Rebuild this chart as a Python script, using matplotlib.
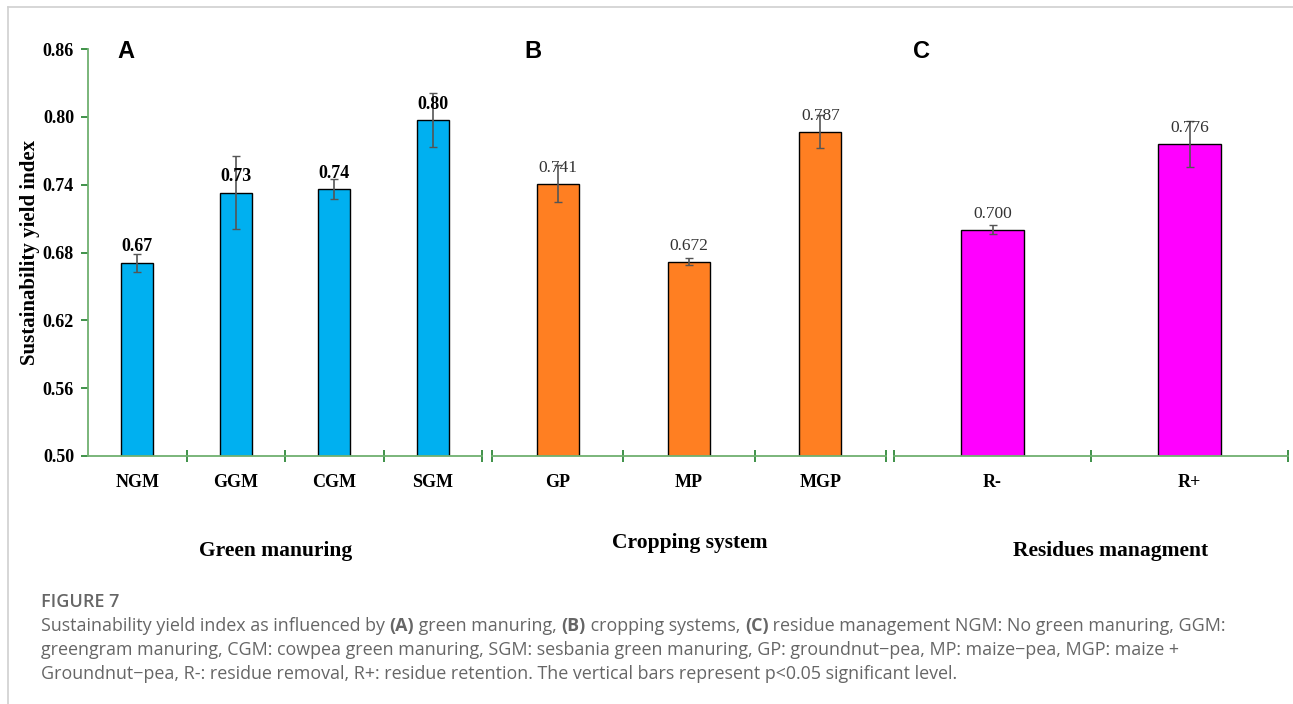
import matplotlib
matplotlib.use("Agg")
import matplotlib.pyplot as plt
from matplotlib.lines import Line2D

# ---------------- data ----------------
cats_a = ["NGM", "GGM", "CGM", "SGM"]
vals_a = [0.671, 0.733, 0.736, 0.797]
errs_a = [0.008, 0.032, 0.009, 0.024]
labs_a = ["0.67", "0.73", "0.74", "0.80"]

cats_b = ["GP", "MP", "MGP"]
vals_b = [0.741, 0.672, 0.787]
errs_b = [0.016, 0.003, 0.015]
labs_b = ["0.741", "0.672", "0.787"]

cats_c = ["R-", "R+"]
vals_c = [0.700, 0.776]
errs_c = [0.004, 0.020]
labs_c = ["0.700", "0.776"]

yticks = [0.50, 0.56, 0.62, 0.68, 0.74, 0.80, 0.86]
panel_letters = ["A", "B", "C"]
group_titles = ["Green manuring", "Cropping system", "Residues managment"]

caption_title = "FIGURE 7"
caption_lines = [
    [("Sustainability yield index as influenced by ", False), ("(A)", True),
     (" green manuring, ", False), ("(B)", True), (" cropping systems, ", False),
     ("(C)", True), (" residue management NGM: No green manuring, GGM:", False)],
    [("greengram manuring, CGM: cowpea green manuring, SGM: sesbania green manuring, "
      "GP: groundnut\u2212pea, MP: maize\u2212pea, MGP: maize +", False)],
    [("Groundnut\u2212pea, R-: residue removal, R+: residue retention. "
      "The vertical bars represent p<0.05 significant level.", False)],
]

# ---------------- style ----------------
W, H = 1293, 704
fig = plt.figure(figsize=(W / 100, H / 100), dpi=100)
serif = "Liberation Serif"
AX_GREEN = "#6fb070"
TICK_GREEN = "#1f7f2a"

panels = [
    (cats_a, vals_a, errs_a, labs_a, "#00B0F0", True, 88),
    (cats_b, vals_b, errs_b, labs_b, "#FF7F22", False, 492),
    (cats_c, vals_c, errs_c, labs_c, "#FF00FF", False, 894),
]
pw = 394
y_bot, y_top = 456, 49

for k, (cats, vals, errs, labs, color, bold_lab, x0) in enumerate(panels):
    ax = fig.add_axes([x0 / W, (H - y_bot) / H, pw / W, (y_bot - y_top) / H])
    n = len(cats)
    xs = [i + 0.5 for i in range(n)]
    ax.bar(xs, vals, width=0.32, bottom=0, color=color, edgecolor="black",
           linewidth=1.0, zorder=2)
    ax.errorbar(xs, vals, yerr=errs, fmt="none", ecolor="#555555",
                elinewidth=1.2, capsize=3, capthick=1.0, zorder=3)
    for x, v, lab in zip(xs, vals, labs):
        ax.text(x, v + 0.0140, lab, ha="center", va="center",
                family=serif, fontsize=13 if bold_lab else 12.5,
                fontweight="bold" if bold_lab else "normal",
                color="black" if bold_lab else "#333333", zorder=4)
    ax.set_xlim(0, n)
    ax.set_ylim(0.50, 0.86)
    for s in ["top", "right"]:
        ax.spines[s].set_visible(False)
    ax.spines["bottom"].set_color(AX_GREEN)
    ax.spines["bottom"].set_linewidth(1.3)
    ax.set_xticks(list(range(1 if k == 0 else 0, n + 1)))
    ax.set_xticklabels([])
    ax.set_xticks(xs, minor=True)
    ax.set_xticklabels(cats, minor=True, family=serif, fontsize=13,
                       fontweight="bold")
    ax.tick_params(axis="x", which="major", direction="inout", length=9,
                   width=1.2, color=TICK_GREEN)
    ax.tick_params(axis="x", which="minor", length=0, pad=13)
    if k == 0:
        ax.spines["left"].set_color(AX_GREEN)
        ax.spines["left"].set_linewidth(1.3)
        ax.set_yticks(yticks)
        ax.set_yticklabels([f"{t:.2f}" for t in yticks], family=serif,
                           fontsize=13, fontweight="bold")
        ax.tick_params(axis="y", direction="out", length=5, width=1.2,
                       color=TICK_GREEN, pad=5)
        ax.set_ylabel("Sustainability yield index", family=serif, fontsize=15,
                      fontweight="bold", labelpad=2)
    else:
        ax.spines["left"].set_visible(False)
        ax.set_yticks([])
    ax.patch.set_alpha(0)

# panel letters
for letter, xp in zip(panel_letters, [117, 524, 913]):
    fig.text(xp / W, 1 - 51 / H, letter, family="Liberation Sans",
             fontweight="bold", fontsize=17, ha="left", va="center")

# group titles
for t, xc, yc in zip(group_titles, [276, 690, 1111], [551, 543, 551]):
    fig.text(xc / W, 1 - yc / H, t, family=serif, fontweight="bold",
             fontsize=15.5, ha="center", va="center")

# frame lines
fig.add_artist(Line2D([8 / W, 1], [1 - 7 / H, 1 - 7 / H], color="#d0d0d0",
                      lw=1.2, transform=fig.transFigure))
fig.add_artist(Line2D([8 / W, 8 / W], [0, 1 - 7 / H], color="#d0d0d0",
                      lw=1.2, transform=fig.transFigure))

# caption
cap_font = "Open Sans"
cap_color = "#666666"
fig.text(41 / W, 1 - 602 / H, caption_title, family=cap_font, fontweight="semibold",
         fontsize=13, color="#666666", ha="left", va="center")

fig.canvas.draw()
renderer = fig.canvas.get_renderer()
for li, runs in enumerate(caption_lines):
    yc = 626 + li * 24
    xpx = 41
    for txt, b in runs:
        t = fig.text(xpx / W, 1 - yc / H, txt, family=cap_font,
                     fontweight="bold" if b else "normal", fontsize=12.85,
                     color=cap_color, ha="left", va="center")
        bb = t.get_window_extent(renderer=renderer)
        xpx += bb.width

fig.savefig("out.png", dpi=100)
